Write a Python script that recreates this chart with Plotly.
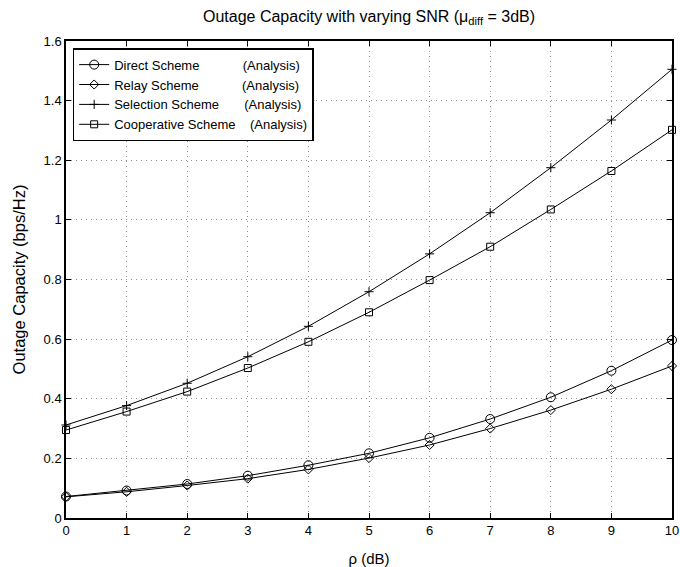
import plotly.graph_objects as go

# SNR values (dB)
rho_db = [0, 1, 2, 3, 4, 5, 6, 7, 8, 9, 10]

# Outage capacity (bps/Hz) for each scheme
direct_cap = [0.072, 0.092, 0.114, 0.142, 0.177, 0.217, 0.269, 0.332, 0.405, 0.494, 0.597]
relay_cap = [0.071, 0.088, 0.109, 0.132, 0.163, 0.201, 0.245, 0.300, 0.362, 0.432, 0.510]
selection_cap = [0.312, 0.377, 0.452, 0.541, 0.643, 0.759, 0.886, 1.024, 1.175, 1.335, 1.505]
cooperative_cap = [0.295, 0.357, 0.424, 0.503, 0.591, 0.690, 0.798, 0.910, 1.035, 1.164, 1.302]

series_names = [
    "Direct Scheme" + "\u00a0" * 12 + "(Analysis)",
    "Relay Scheme" + "\u00a0" * 12 + "(Analysis)",
    "Selection Scheme" + "\u00a0" * 7 + "(Analysis)",
    "Cooperative Scheme" + "\u00a0" * 4 + "(Analysis)",
]
series_values = [direct_cap, relay_cap, selection_cap, cooperative_cap]
series_symbols = ["circle-open", "diamond-open", "cross-thin-open", "square-open"]
series_sizes = [9, 7, 6.5, 7]

y_ticks = [0, 0.2, 0.4, 0.6, 0.8, 1.0, 1.2, 1.4, 1.6]
y_tick_labels = ["0", "0.2", "0.4", "0.6", "0.8", "1", "1.2", "1.4", "1.6"]

fig = go.Figure()
for name, vals, sym, sz in zip(series_names, series_values, series_symbols, series_sizes):
    fig.add_trace(go.Scatter(
        x=rho_db, y=vals, name=name, mode="lines+markers",
        line=dict(color="black", width=1),
        marker=dict(symbol=sym, size=sz, color="black",
                    line=dict(color="black", width=1)),
        cliponaxis=False,
    ))

font_family = "Liberation Sans, Arial, Helvetica, sans-serif"

axis_common = dict(
    showline=True, linecolor="black", linewidth=1.5, mirror="ticks",
    ticks="inside", ticklen=5, tickcolor="black", tickwidth=1,
    showgrid=True, gridcolor="#8c8c8c", griddash="1px,4px", gridwidth=1,
    zeroline=False, automargin=False,
    tickfont=dict(family=font_family, size=13, color="black"),
)

fig.update_layout(
    width=680, height=567,
    margin=dict(l=66, r=8, t=41, b=49),
    paper_bgcolor="white", plot_bgcolor="white",
    font=dict(family=font_family, color="black"),
    title=dict(
        text="Outage Capacity with varying SNR (\u03bc<sub>diff</sub> = 3dB)",
        x=(66 + 672) / 2 / 680, xanchor="center",
        y=1 - 16 / 567, yanchor="middle",
        font=dict(family=font_family, size=16, color="black"),
    ),
    xaxis=dict(
        axis_common, range=[0, 10], tickmode="array", tickvals=rho_db,
        title=dict(text="\u03c1 (dB)", font=dict(family=font_family, size=15), standoff=17),
    ),
    yaxis=dict(
        axis_common, range=[0, 1.6], tickmode="array", tickvals=y_ticks,
        ticktext=y_tick_labels,
        title=dict(text="Outage Capacity (bps/Hz)", font=dict(family=font_family, size=16.5), standoff=14),
    ),
    legend=dict(
        x=0.011, y=0.985, xanchor="left", yanchor="top",
        bgcolor="white", bordercolor="black", borderwidth=1.5,
        font=dict(family=font_family, size=13, color="black"),
        tracegroupgap=0, itemwidth=30,
    ),
    showlegend=True,
)

fig.write_html("out.html")
